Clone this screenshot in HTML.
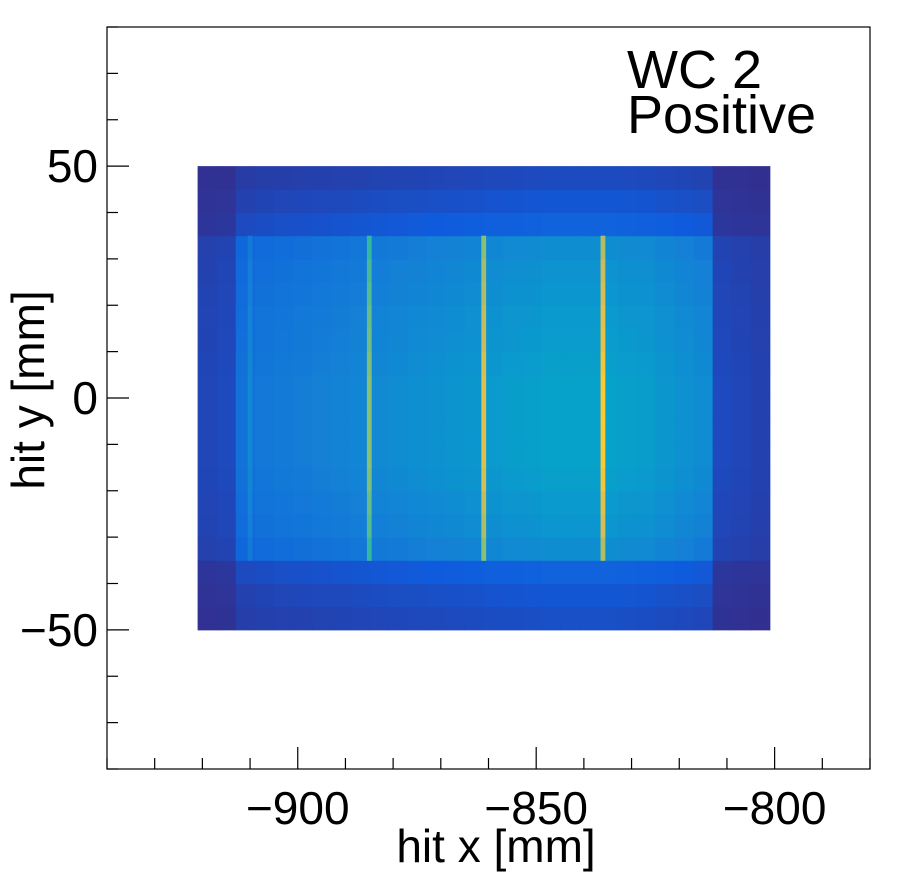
<!DOCTYPE html>
<html><head><meta charset="utf-8"><style>
html,body{margin:0;padding:0;background:#fff;}
svg{display:block;font-family:"Liberation Sans",Arial,sans-serif;}
</style></head><body>
<svg id="chart" width="898" height="875" viewBox="0 0 898 875" xmlns="http://www.w3.org/2000/svg">
<rect x="0" y="0" width="898" height="875" fill="#fff"/>
<g id="cells"></g>
<rect x="107" y="27" width="763" height="742" fill="none" stroke="#000" stroke-width="1.2"/>
<g id="axes"></g>
<text x="627" y="88" font-size="54">WC 2</text>
<text x="627" y="133" font-size="54">Positive</text>
<text x="496" y="862" font-size="46" text-anchor="middle">hit x [mm]</text>
<text transform="translate(44,390) rotate(-90)" font-size="46" text-anchor="middle">hit y [mm]</text>
</svg>
<script>
// data
const xBinEdges0 = -921, xBinWidth = 4;
const xProfile = [0.07,0.08,0.2,0.22,0.23,0.24,0.25,0.26,0.27,0.28,0.29,0.3,0.31,0.32,0.33,0.34,0.35,0.36,0.37,0.37,0.37,0.37,0.36,0.35,0.33,0.31,0.29,0.08,0.07,0.06,0.01];
const yBinEdges0 = -65, yBinWidth = 5;
const yProfile = [0.01,0.02,0.03,0.25,0.3,0.4,0.8,0.88,0.92,0.97,1.0,1.0,1.0,1.0,0.97,0.94,0.92,0.88,0.85,0.8,0.4,0.3,0.22,0.03,0.02,0.01];
const stripeX = [-910,-885,-861,-836];
const stripeBoost = [0.08,0.35,0.45,0.5];
const xTicks = [-900,-850,-800];
const yTicks = [-50,0,50];

const X0=-940,X1=-780,Y0=-80,Y1=80,PL=107,PR=870,PT=27,PB=769;
const sx=v=>PL+(v-X0)/(X1-X0)*(PR-PL);
const sy=v=>PB-(v-Y0)/(Y1-Y0)*(PB-PT);
const pal=[[0.2082,0.1664,0.5293],[0.0592,0.3599,0.8684],[0.0780,0.5041,0.8385],[0.0232,0.6419,0.7914],[0.1802,0.7178,0.6425],[0.5301,0.7492,0.4662],[0.8186,0.7328,0.3499],[0.9956,0.7862,0.1968],[0.9764,0.9832,0.0539]];
function col(v){v=Math.max(0,Math.min(1,v));const f=v*(pal.length-1),i=Math.min(pal.length-2,Math.floor(f)),t=f-i;
const c=pal[i].map((a,k)=>Math.round(255*(a+(pal[i+1][k]-a)*t)));return `rgb(${c[0]},${c[1]},${c[2]})`;}
const NS="http://www.w3.org/2000/svg";
const cells=document.getElementById('cells');
for(let i=0;i<xProfile.length;i++)for(let j=0;j<yProfile.length;j++){
  const v=xProfile[i]*yProfile[j]; if(v<0.012)continue;
  const xa=xBinEdges0+i*xBinWidth, ya=yBinEdges0+j*yBinWidth;
  const r=document.createElementNS(NS,'rect');
  r.setAttribute('x',sx(xa));r.setAttribute('y',sy(ya+yBinWidth));
  r.setAttribute('width',sx(xa+xBinWidth)-sx(xa)+0.5);r.setAttribute('height',sy(ya)-sy(ya+yBinWidth)+0.5);
  r.setAttribute('fill',col(v));
  
  
  cells.appendChild(r);
}
for(let s=0;s<stripeX.length;s++)for(let j=0;j<yProfile.length;j++){
  const ya=yBinEdges0+j*yBinWidth; if(ya<-37||ya>=35)continue;
  const i=Math.floor((stripeX[s]-xBinEdges0)/xBinWidth);
  const v=xProfile[i]*yProfile[j]+stripeBoost[s]*yProfile[j];
  const r=document.createElementNS(NS,'rect');
  r.setAttribute('x',sx(stripeX[s]-0.5));r.setAttribute('y',sy(ya+yBinWidth));
  r.setAttribute('width',sx(stripeX[s]+0.5)-sx(stripeX[s]-0.5));r.setAttribute('height',sy(ya)-sy(ya+yBinWidth)+0.5);
  r.setAttribute('fill',col(v));
  
  
  cells.appendChild(r);
}
const ax=document.getElementById('axes');
function line(x1,y1,x2,y2,n){const l=document.createElementNS(NS,'line');l.setAttribute('x1',x1);l.setAttribute('y1',y1);l.setAttribute('x2',x2);l.setAttribute('y2',y2);l.setAttribute('stroke','#000');l.setAttribute('stroke-width','1.2');


ax.appendChild(l);}
for(let v=-940;v<=-780;v+=10){const maj=v%50===0;line(sx(v),PB,sx(v),PB-(maj?22:11),'x-tick');}
for(let v=-80;v<=80;v+=10){const maj=v%50===0;line(PL,sy(v),PL+(maj?22:11),sy(v),'y-tick');}
xTicks.forEach(v=>{const t=document.createElementNS(NS,'text');t.setAttribute('x',sx(v));t.setAttribute('y',824);t.setAttribute('font-size','46');t.setAttribute('text-anchor','middle');t.textContent='\u2212'+Math.abs(v);


ax.appendChild(t);});
yTicks.forEach(v=>{const t=document.createElementNS(NS,'text');t.setAttribute('x',98);t.setAttribute('y',sy(v)+16);t.setAttribute('font-size','46');t.setAttribute('text-anchor','end');t.textContent=(v<0?'\u2212':'')+Math.abs(v);


ax.appendChild(t);});
</script>
</body></html>
